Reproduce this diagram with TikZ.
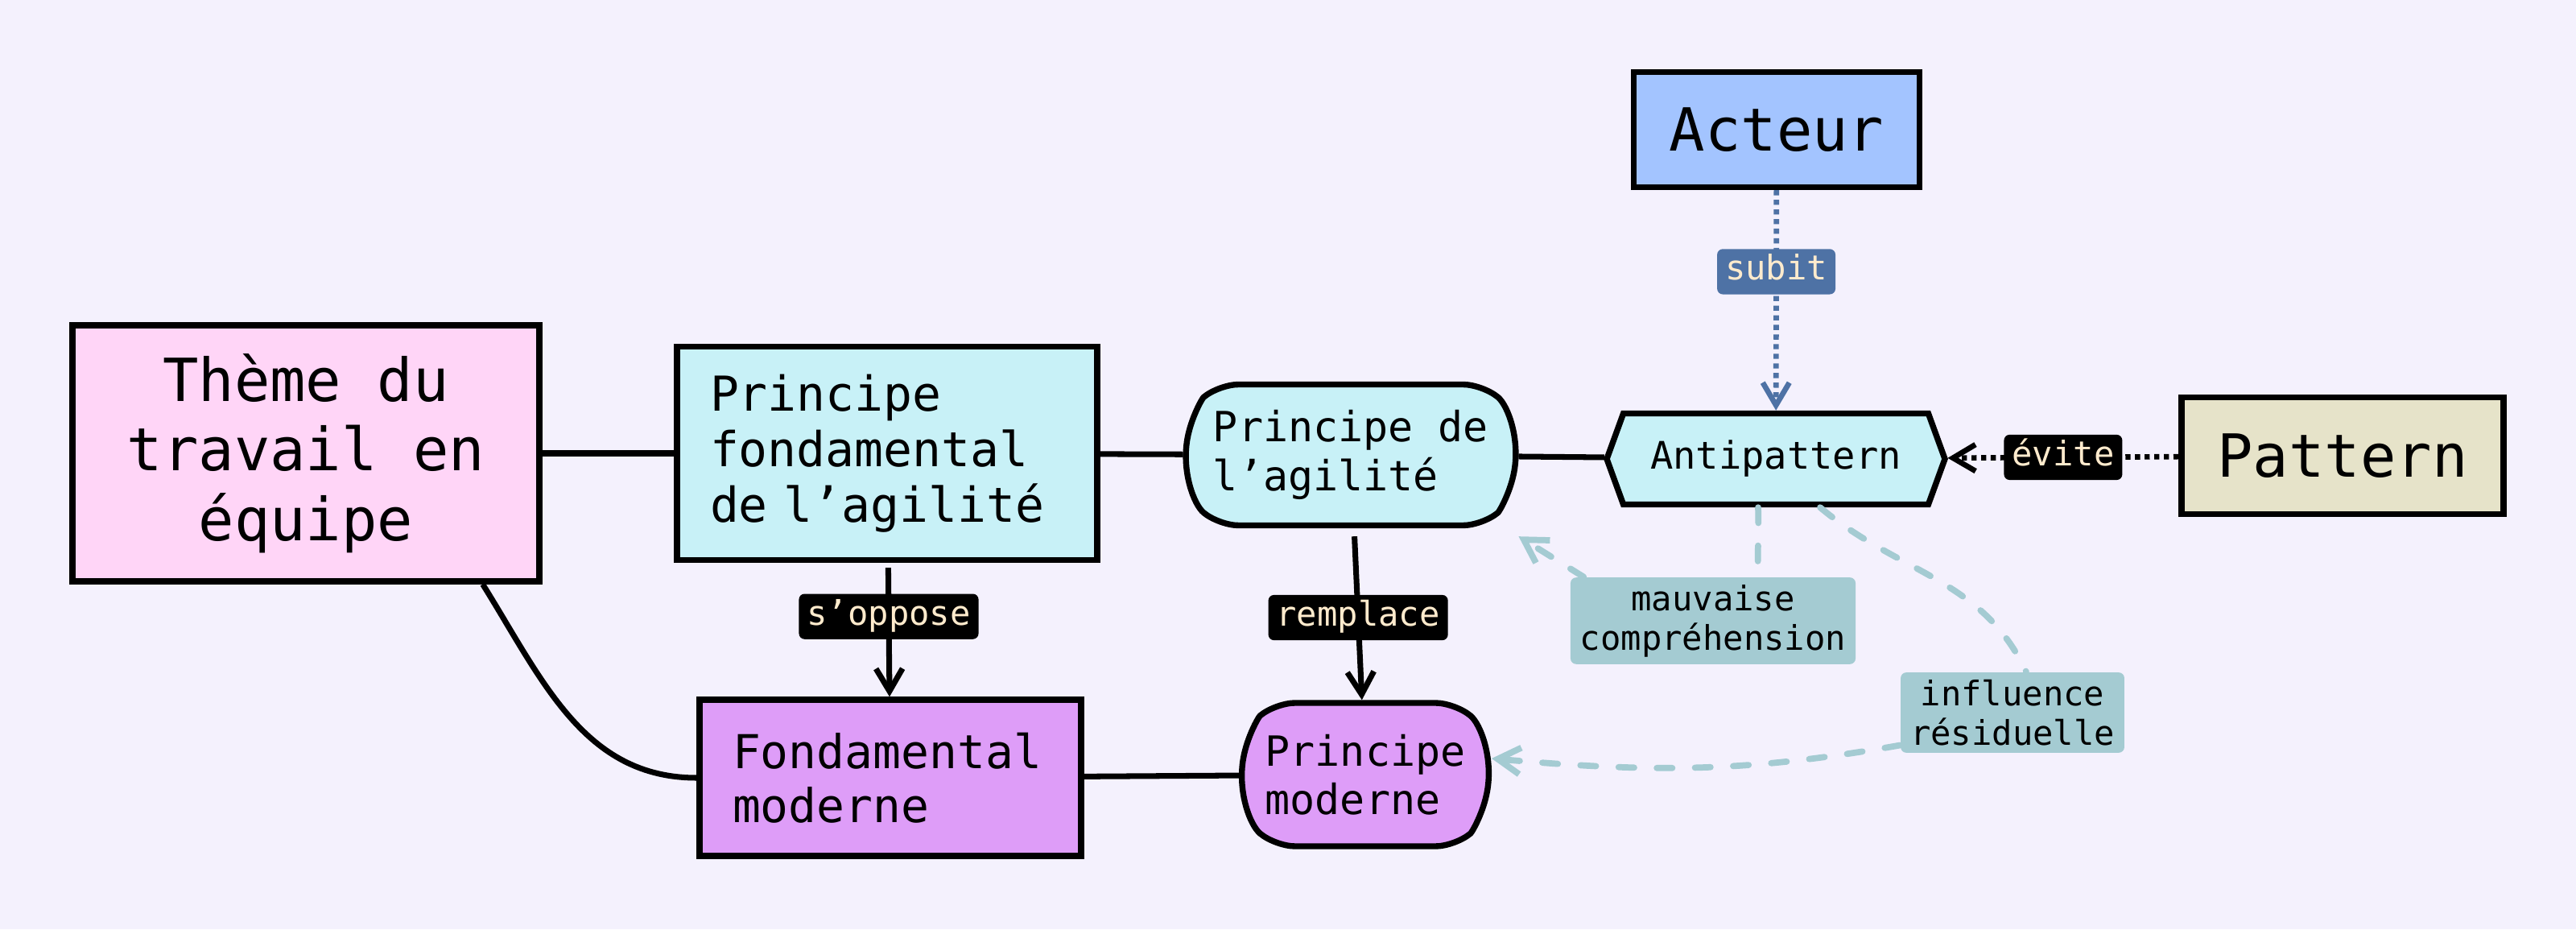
\documentclass[tikz,border=0pt]{standalone}
\usepackage{fontspec}
\setmainfont{DejaVu Sans Mono}
\usetikzlibrary{arrows.meta, shapes.misc, shapes.symbols, calc}

\definecolor{fond}{HTML}{F4F1FD}
\definecolor{rose}{HTML}{FFD5F7}
\definecolor{cyanclair}{HTML}{C8F1F7}
\definecolor{mauve}{HTML}{DE9DF8}
\definecolor{bleuclair}{HTML}{A3C4FF}
\definecolor{beige}{HTML}{E6E3C9}
\definecolor{bleufonce}{HTML}{4E72A5}
\definecolor{sarcelle}{HTML}{A4CBD2}
\definecolor{creme}{HTML}{FFEBCD}

\begin{document}
\begin{tikzpicture}[
    boite/.style={draw=black, line width=2.1pt},
    bulle/.style={boite, rounded rectangle, rounded rectangle arc length=100, rounded corners=7pt},
    lien/.style={line width=2pt},
    fleche/.style={-{Straight Barb[length=2.8mm, width=3.3mm]}},
    pointille/.style={line width=1.9pt, dash pattern=on 1.8pt off 1.6pt},
    tiret/.style={draw=sarcelle, line width=2.2pt, line cap=round, dash pattern=on 5.5pt off 8pt},
    noir/.style={fill=black, text=creme, rounded corners=2pt, font={\fontsize{12}{14}\selectfont},
        inner xsep=1mm, inner ysep=2pt, text height=9pt, text depth=3pt},
    clair/.style={fill=sarcelle, text=black, rounded corners=2pt, align=center,
        font={\fontsize{12}{14}\selectfont}, inner xsep=1.2mm, inner ysep=2.5pt}
]
    % Fond
    \fill[fond] (0,0) rectangle (32,11.54);
    \useasboundingbox (0,0) rectangle (32,11.54);

    % Noeuds
    \node[boite, fill=rose, minimum width=5.8cm, minimum height=3.18cm, align=center,
        font={\fontsize{21}{24.6}\selectfont}] (theme) at (3.80,5.91) {Thème du\\travail en\\équipe};
    \node[boite, fill=cyanclair, text width=4.40cm, inner xsep=0.41cm, minimum height=2.65cm, align=left,
        font={\fontsize{17}{19.7}\selectfont}] (pf) at (11.02,5.91) {Principe\\fondamental\\de l’agilité};
    \node[bulle, fill=cyanclair, minimum width=4.33cm, minimum height=1.75cm, align=left,
        font={\fontsize{14.7}{17.2}\selectfont}] (agil) at (16.78,5.89) {Principe de\\l’agilité};
    \node[boite, signal, signal to=west and east, signal pointer angle=140, fill=cyanclair,
        minimum width=4.20cm, minimum height=1.13cm,
        font={\fontsize{13.4}{15.6}\selectfont}] (anti) at (22.06,5.84) {Antipattern};
    \node[boite, fill=beige, minimum width=4cm, minimum height=1.45cm,
        font={\fontsize{21}{24.6}\selectfont}] (pattern) at (29.10,5.88) {Pattern};
    \node[boite, fill=bleuclair, minimum width=3.55cm, minimum height=1.43cm,
        font={\fontsize{21}{24.6}\selectfont}] (acteur) at (22.07,9.93) {Acteur};
    \node[boite, fill=mauve, text width=3.92cm, inner xsep=0.41cm, minimum height=1.94cm, align=left,
        font={\fontsize{16.5}{19.2}\selectfont}] (fm) at (11.06,1.88) {Fondamental\\moderne};
    \node[bulle, fill=mauve, minimum width=3.30cm, minimum height=1.78cm, align=left,
        font={\fontsize{14.7}{17.2}\selectfont}] (pm) at (16.96,1.92) {Principe\\moderne};

    % Etiquettes libres
    \node[clair] (mc) at (21.28,3.83) {mauvaise\\compréhension};
    \node[clair] (ir) at (25.00,2.69) {influence\\résiduelle};

    % Liens
    \draw[lien] (theme) -- (pf);
    \draw[lien] (pf) -- (agil);
    \draw[lien] (agil) -- (anti);
    \draw[lien] (fm) -- (pm);
    \draw[lien] ([xshift=-7.4mm]theme.south east) to[out=-58, in=180] (fm.west);
    \draw[lien, fleche, shorten <=0.6mm] (pf) -- node[pos=0.4, noir] {s’oppose} (fm);
    \draw[lien, fleche, shorten <=1mm] (agil) -- node[pos=0.52, noir] {remplace} (pm);
    \draw[pointille, draw=bleufonce, fleche] (acteur) -- node[pos=0.37, noir, fill=bleufonce] {subit} (anti);
    \draw[pointille, fleche] (pattern) -- node[noir] {évite} (anti);

    % Influences
    \draw[tiret] ([xshift=-2.2mm]anti.south) to[out=-88, in=92] ([xshift=5.6mm]mc.north);
    \draw[tiret, fleche] ([xshift=1.7mm]mc.north west) -- ($(agil.east |- agil.south)+(0,-0.1)$);
    \draw[tiret] ([xshift=5.5mm]anti.south) to[out=-40, in=115] ([xshift=1.7mm]ir.north);
    \draw[tiret, fleche] ([yshift=1mm]ir.south west) to[out=190, in=-5] ([yshift=2mm]pm.east);
\end{tikzpicture}
\end{document}
